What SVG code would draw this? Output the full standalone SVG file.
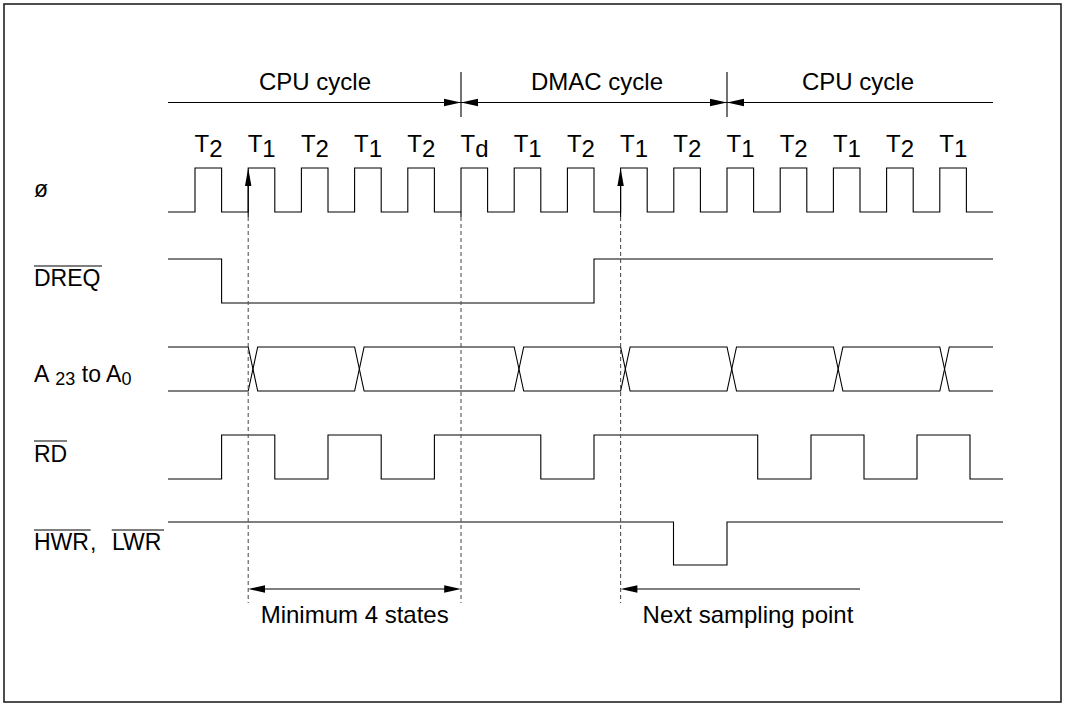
<svg xmlns="http://www.w3.org/2000/svg" width="1066" height="705" viewBox="0 0 1066 705">
<defs>
<style>
.w{fill:none;stroke:#000;stroke-width:1.1}
.d{fill:none;stroke:#555;stroke-width:1.1;stroke-dasharray:4 3}
.t{font-family:"Liberation Sans",Arial,sans-serif;font-size:24px;fill:#000}
.l{font-family:"Liberation Sans",Arial,sans-serif;font-size:23px;fill:#000}
.s{font-size:18px}
.ah{fill:#000;stroke:none}
</style>
</defs>
<rect x="4" y="4" width="1057" height="698" fill="#fff" stroke="#222" stroke-width="1.6"/>

<g id="cycles">
<line class="w" x1="168" y1="102.5" x2="993" y2="102.5"/>
<line class="w" x1="461" y1="72" x2="461" y2="117"/>
<line class="w" x1="727" y1="72" x2="727" y2="117"/>
<polygon class="ah" points="461,102.5 444,98.8 444,106.2"/>
<polygon class="ah" points="461,102.5 478,98.8 478,106.2"/>
<polygon class="ah" points="727,102.5 710,98.8 710,106.2"/>
<polygon class="ah" points="727,102.5 744,98.8 744,106.2"/>
<text class="t" x="315" y="90" text-anchor="middle">CPU cycle</text>
<text class="t" x="597" y="90" text-anchor="middle">DMAC cycle</text>
<text class="t" x="858" y="90" text-anchor="middle">CPU cycle</text>
</g>

<g id="states">
<text class="t" x="194.5" y="151.5">T<tspan dy="5">2</tspan></text>
<text class="t" x="247.7" y="151.5">T<tspan dy="5">1</tspan></text>
<text class="t" x="300.9" y="151.5">T<tspan dy="5">2</tspan></text>
<text class="t" x="354.1" y="151.5">T<tspan dy="5">1</tspan></text>
<text class="t" x="407.3" y="151.5">T<tspan dy="5">2</tspan></text>
<text class="t" x="460.5" y="151.5">T<tspan dy="5">d</tspan></text>
<text class="t" x="513.7" y="151.5">T<tspan dy="5">1</tspan></text>
<text class="t" x="566.9" y="151.5">T<tspan dy="5">2</tspan></text>
<text class="t" x="620.1" y="151.5">T<tspan dy="5">1</tspan></text>
<text class="t" x="673.3" y="151.5">T<tspan dy="5">2</tspan></text>
<text class="t" x="726.5" y="151.5">T<tspan dy="5">1</tspan></text>
<text class="t" x="779.7" y="151.5">T<tspan dy="5">2</tspan></text>
<text class="t" x="832.9" y="151.5">T<tspan dy="5">1</tspan></text>
<text class="t" x="886.1" y="151.5">T<tspan dy="5">2</tspan></text>
<text class="t" x="939.3" y="151.5">T<tspan dy="5">1</tspan></text>
</g>

<g id="clock">
<text class="l" x="34" y="197">ø</text>
<path class="w" d="M168,212 H195 V168 H221.6 V212 H248.2 V168 H274.8 V212 H301.4 V168 H328 V212 H354.6 V168 H381.2 V212 H407.8 V168 H434.4 V212 H461 V168 H487.6 V212 H514.2 V168 H540.8 V212 H567.4 V168 H594 V212 H620.6 V168 H647.2 V212 H673.8 V168 H700.4 V212 H727 V168 H753.6 V212 H780.2 V168 H806.8 V212 H833.4 V168 H860 V212 H886.6 V168 H913.2 V212 H939.8 V168 H966.4 V212 H993"/>
</g>

<g id="dreq">
<text class="l" x="34" y="286">DREQ</text>
<line class="w" x1="34" y1="266" x2="102" y2="266"/>
<path class="w" d="M168,259 H221.6 V303 H594 V259 H993"/>
</g>

<g id="address">
<text class="l" x="34" y="382">A<tspan class="s" dx="6" dy="3">23</tspan><tspan dy="-3"> to A</tspan><tspan class="s" dy="3">0</tspan></text>
<path class="w" d="M168,347 H248.2 L257.7,391 H354.6 L364.1,347 H514.2 L523.7,391 H620.6 L630.1,347 H727 L736.5,391 H833.4 L842.9,347 H939.8 L949.3,391 H993"/>
<path class="w" d="M168,391 H248.2 L257.7,347 H354.6 L364.1,391 H514.2 L523.7,347 H620.6 L630.1,391 H727 L736.5,347 H833.4 L842.9,391 H939.8 L949.3,347 H993"/>
</g>

<g id="rd">
<text class="l" x="34" y="462">RD</text>
<line class="w" x1="34" y1="441" x2="67" y2="441"/>
<path class="w" d="M168,479 H221.6 V435 H274.8 V479 H328 V435 H381.2 V479 H434.4 V435 H540.8 V479 H594 V435 H757.7 V479 H811 V435 H864 V479 H917 V435 H970 V479 H1003"/>
</g>

<g id="wr">
<text class="l" x="34" y="550">HWR<tspan dx="1">,</tspan><tspan x="112">LWR</tspan></text>
<line class="w" x1="34" y1="530" x2="90.7" y2="530"/>
<line class="w" x1="111.7" y1="530" x2="164" y2="530"/>
<path class="w" d="M168,522 H673.5 V565 H727 V522 H1003"/>
</g>

<g id="connectors">
<line class="w" x1="248.2" y1="180" x2="248.2" y2="217"/>
<polygon class="ah" points="248.2,168 245,186 251.4,186"/>
<line class="w" x1="620.6" y1="180" x2="620.6" y2="217"/>
<polygon class="ah" points="620.6,168 617.4,186 623.8,186"/>
<line class="w" x1="461" y1="212" x2="461" y2="217"/>
<line class="d" x1="248.2" y1="217" x2="248.2" y2="603"/>
<line class="d" x1="461" y1="217" x2="461" y2="603"/>
<line class="d" x1="620.6" y1="217" x2="620.6" y2="603"/>
<line class="w" x1="260" y1="589" x2="449" y2="589"/>
<polygon class="ah" points="248.2,589 265,585.2 265,592.8"/>
<polygon class="ah" points="461,589 444.2,585.2 444.2,592.8"/>
<line class="w" x1="632" y1="589" x2="860" y2="589"/>
<polygon class="ah" points="620.6,589 637.4,585.2 637.4,592.8"/>
</g>

<g id="notes">
<text class="t" x="354.7" y="623.3" text-anchor="middle">Minimum 4 states</text>
<text class="t" x="748" y="623.3" text-anchor="middle">Next sampling point</text>
</g>
</svg>
